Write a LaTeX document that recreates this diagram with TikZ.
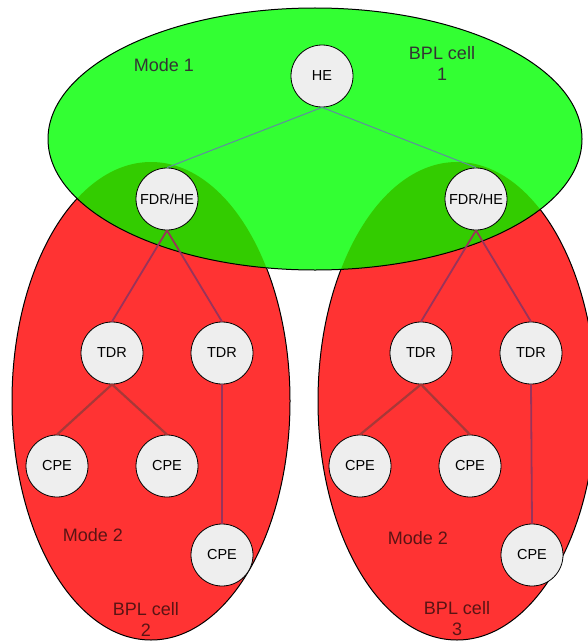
\documentclass[tikz,border=0pt]{standalone}
\usepackage{fontspec}
\setmainfont{Liberation Sans}
\usetikzlibrary{positioning}

\definecolor{cellgreen}{RGB}{51,255,51}
\definecolor{overlapgreen}{RGB}{51,204,0}
\definecolor{cellred}{RGB}{255,51,51}
\definecolor{nodegray}{RGB}{238,238,238}
\definecolor{linkblue}{RGB}{95,140,160}
\definecolor{linkpurple}{RGB}{153,51,90}
\definecolor{linkbrown}{RGB}{168,56,56}
\definecolor{labelred}{RGB}{90,20,20}

\begin{document}
\begin{tikzpicture}[x=1pt, y=-1pt,
  station/.style={circle, draw=black, thick, fill=nodegray, minimum size=62pt, inner sep=0pt,
    font=\fontsize{14.5}{16}\selectfont},
  celltext/.style={align=center, font=\fontsize{18}{21}\selectfont},
  uplink/.style={draw=linkblue, line width=1pt},
  feeder/.style={draw=linkpurple, line width=1.8pt},
  droplink/.style={draw=linkbrown, line width=2.2pt}]
  \useasboundingbox (0,0) rectangle (587,642);

  % BPL cells 2 and 3
  \draw [fill=cellred, line width=1pt] (151,401) ellipse [x radius=139pt, y radius=239pt];
  \draw [fill=cellred, line width=1pt] (457,401) ellipse [x radius=139pt, y radius=239pt];

  % BPL cell 1 on top, darker where it covers the lower cells
  \fill [cellgreen] (315,139) ellipse [x radius=267pt, y radius=131pt];
  \begin{scope}
    \clip (315,139) ellipse [x radius=267pt, y radius=131pt];
    \fill [overlapgreen] (151,401) ellipse [x radius=139pt, y radius=239pt];
    \fill [overlapgreen] (457,401) ellipse [x radius=139pt, y radius=239pt];
  \end{scope}
  \draw [line width=1pt] (315,139) ellipse [x radius=267pt, y radius=131pt];

  % stations
  \node [station] (he) at (322,76) {HE};
  \node [station] (fdrA) at (167,199) {FDR/HE};
  \node [station] (fdrB) at (476,199) {FDR/HE};

  \node [station] (tdrA) at (112,353) {TDR};
  \node [station] (tdrB) at (222,353) {TDR};
  \node [station] (cpeA) at (57,466) {CPE};
  \node [station] (cpeB) at (167,466) {CPE};
  \node [station] (cpeC) at (222,555) {CPE};

  \node [station] (tdrC) at (421,353) {TDR};
  \node [station] (tdrD) at (531,353) {TDR};
  \node [station] (cpeD) at (360,466) {CPE};
  \node [station] (cpeE) at (470,466) {CPE};
  \node [station] (cpeF) at (532,555) {CPE};

  % links
  \draw [uplink] (he.south) -- (fdrA.north);
  \draw [uplink] (he.south) -- (fdrB.north);
  \draw [feeder] (fdrA.south) -- (tdrA.north);
  \draw [feeder] (fdrA.south) -- (tdrB.north);
  \draw [feeder] (fdrB.south) -- (tdrC.north);
  \draw [feeder] (fdrB.south) -- (tdrD.north);
  \draw [droplink] (tdrA.south) -- (cpeA.north);
  \draw [droplink] (tdrA.south) -- (cpeB.north);
  \draw [feeder] (tdrB.south) -- (cpeC.north);
  \draw [droplink] (tdrC.south) -- (cpeD.north);
  \draw [droplink] (tdrC.south) -- (cpeE.north);
  \draw [feeder] (tdrD.south) -- (cpeF.north);

  % cell labels
  \node [celltext, text=black!80] (modeA) at (164,65) {Mode 1};
  \node [celltext, text=black!80] (cellA) at (442,63) {BPL cell\\1};
  \node [celltext, text=labelred] (modeB) at (93,535) {Mode 2};
  \node [celltext, text=labelred] (cellB) at (146,619) {BPL cell\\2};
  \node [celltext, text=labelred] (modeC) at (418,538) {Mode 2};
  \node [celltext, text=labelred] (cellC) at (457,619) {BPL cell\\3};
\end{tikzpicture}
\end{document}
